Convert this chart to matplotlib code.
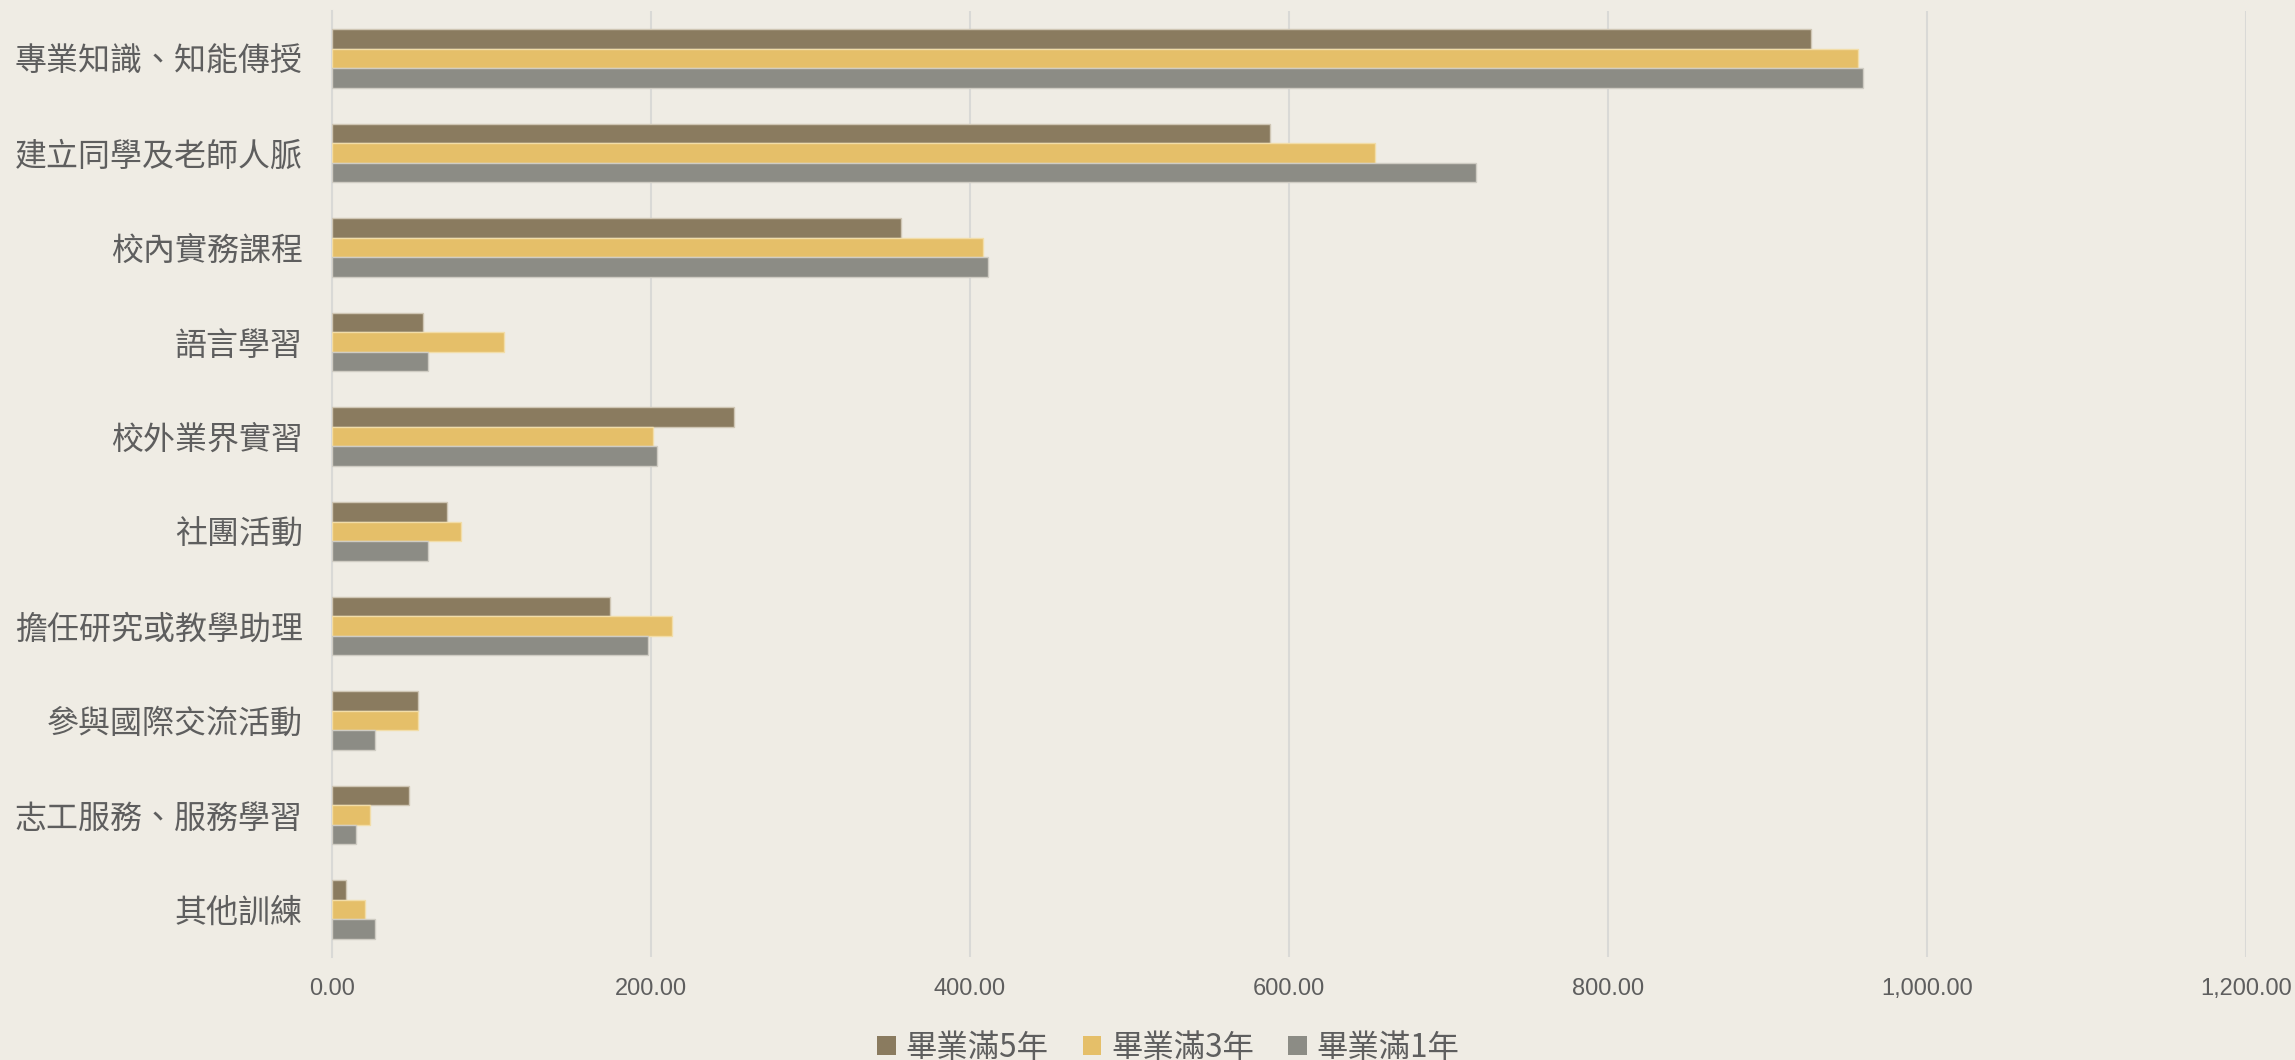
import matplotlib
matplotlib.use("Agg")
import matplotlib.pyplot as plt
import numpy as np
from matplotlib.ticker import FuncFormatter

categories = ["專業知識、知能傳授", "建立同學及老師人脈", "校內實務課程", "語言學習", "校外業界實習",
              "社團活動", "擔任研究或教學助理", "參與國際交流活動", "志工服務、服務學習", "其他訓練"]
series_names = ["畢業滿5年", "畢業滿3年", "畢業滿1年"]
grad5 = [927, 588, 357, 57, 252, 72, 174, 54, 48, 9]
grad3 = [957, 654, 408, 108, 201, 81, 213, 54, 24, 21]
grad1 = [960, 717, 411, 60, 204, 60, 198, 27, 15, 27]
xticks = [0, 200, 400, 600, 800, 1000, 1200]

colors = ["#8A7B5F", "#E5BF69", "#8C8C85"]
edge_colors = ["#CFC6B4", "#F2DDA8", "#CFCCC3"]
bg = "#EFECE4"
text_color = "#5E5E5E"

plt.rcParams['font.family'] = ['Noto Sans CJK TC', 'DejaVu Sans']

fig = plt.figure(figsize=(22.95, 10.60), dpi=100, facecolor=bg)
ax = fig.add_axes([332/2295, 1-957/1060, (2246-332)/2295, (957-11)/1060])
ax.set_facecolor(bg)

n = len(categories)
y = np.arange(n)
h = 0.207
data = [grad5, grad3, grad1]
for i, (vals, name) in enumerate(zip(data, series_names)):
    ax.barh(y + (i - 1) * h, vals, height=h, color=colors[i], edgecolor=edge_colors[i],
            linewidth=1.0, label=name, zorder=3)

ax.set_ylim(n - 0.5, -0.5)
ax.set_xlim(0, 1200)
ax.set_xticks(xticks)
ax.xaxis.set_major_formatter(FuncFormatter(lambda v, p: f"{v:,.2f}"))
ax.set_yticks(y)
ax.set_yticklabels(categories, fontsize=23, color=text_color, fontweight='light')
for lab in ax.get_xticklabels():
    lab.set_fontfamily(['Liberation Sans', 'DejaVu Sans'])
    lab.set_fontsize(17)
    lab.set_color(text_color)
ax.tick_params(axis='y', length=0, pad=21)
ax.tick_params(axis='x', length=0, pad=15)
ax.grid(axis='x', color="#D9D9D6", linewidth=1.5, zorder=0)
for s in ["top", "right", "bottom"]:
    ax.spines[s].set_visible(False)
ax.spines["left"].set_color("#D9D9D6")
ax.spines["left"].set_linewidth(1.5)

leg = fig.legend(loc="lower center", bbox_to_anchor=(0.509, -0.03), ncol=3, frameon=False,
                 prop={'size': 22.6, 'weight': 'light'}, handlelength=0.6, handleheight=0.6,
                 handletextpad=0.3, columnspacing=1.1, labelcolor=text_color)
for hdl in leg.legend_handles:
    hdl.set_edgecolor("none")

fig.savefig("out.png", dpi=100, facecolor=bg)
